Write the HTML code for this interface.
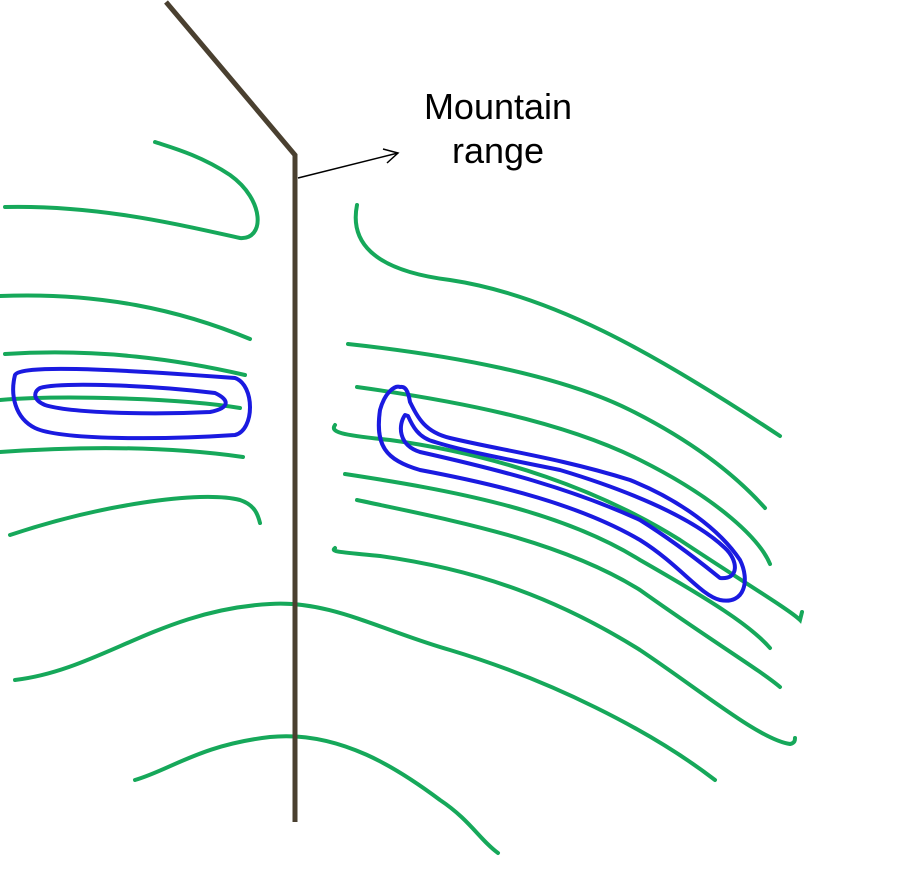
<!DOCTYPE html>
<html><head><meta charset="utf-8"><style>
html,body{margin:0;padding:0;background:#fff;}
svg{display:block;}
text{font-family:"Liberation Sans",sans-serif;font-size:36px;fill:#000;}
</style></head><body>
<svg width="898" height="888" viewBox="0 0 898 888" xmlns="http://www.w3.org/2000/svg">
<g fill="none" stroke="#16a85a" stroke-width="4" stroke-linecap="round">
<path d="M5,207 C100,205 180,225 240,238 C265,240 265,200 230,175 C200,155 170,147 155,142"/>
<path d="M0,296 C100,292 180,310 250,339"/>
<path d="M5,354 C100,348 180,360 245,375"/>
<path d="M0,400 C60,395 180,398 240,408"/>
<path d="M0,452 C100,445 180,448 243,457"/>
<path d="M10,535 C100,505 200,490 240,500 C255,505 258,515 260,523"/>
<path d="M15,680 C100,670 160,610 270,604 C330,600 380,630 450,650 C550,680 650,730 715,780"/>
<path d="M135,780 C170,770 200,745 270,737 C340,730 400,770 440,800 C470,820 480,840 498,853"/>
<path d="M357,205 C350,240 370,270 450,280 C550,295 650,350 780,436"/>
<path d="M348,344 C450,355 560,375 630,410 C700,445 740,480 765,508"/>
<path d="M357,387 C450,400 560,420 640,460 C720,500 760,540 770,564"/>
<path d="M335,425 C330,432 340,435 390,440 C500,455 600,490 680,540 C740,580 790,610 800,620 L802,612"/>
<path d="M345,474 C450,490 560,510 640,560 C710,600 750,625 770,648"/>
<path d="M357,500 C450,520 560,540 640,590 C710,640 760,670 780,687"/>
<path d="M335,548 C330,552 340,552 380,556 C480,570 560,600 640,650 C700,690 760,740 790,744 C795,743 795,740 795,738"/>
</g>
<g fill="none" stroke="#1a1ae0" stroke-width="4" stroke-linejoin="round">
<path d="M15,375 C20,365 100,368 235,378 C255,385 255,430 235,435 C160,440 60,440 35,428 C15,418 10,395 15,375 Z"/>
<path d="M40,388 C60,382 150,385 215,393 C230,400 230,408 210,412 C150,415 70,413 45,405 C33,400 33,392 40,388 Z"/>
<path d="M400,387 C395,385 385,392 380,410 C375,445 385,460 420,470 C500,485 580,505 640,540 C680,565 700,595 720,600 C745,605 750,580 740,560 C720,530 680,500 630,480 C560,458 500,450 450,438 C425,432 418,418 410,402 C408,390 405,386 400,387 Z"/>
<path d="M405,415 C398,425 398,445 420,452 C500,470 570,488 640,520 C680,545 710,570 720,578 C740,580 738,560 725,548 C690,515 620,488 560,470 C500,458 460,450 435,442 C418,438 412,425 408,416 Z"/>
</g>
<polyline points="166,2 295,155 295,822" fill="none" stroke="#4a4030" stroke-width="5"/>
<g stroke="#000" stroke-width="1.5" fill="none">
<line x1="298" y1="178" x2="398" y2="153"/>
<polyline points="383,149 398,153 387,163"/>
</g>
<text x="498" y="119" text-anchor="middle">Mountain</text>
<text x="498" y="163" text-anchor="middle">range</text>
</svg>
</body></html>
